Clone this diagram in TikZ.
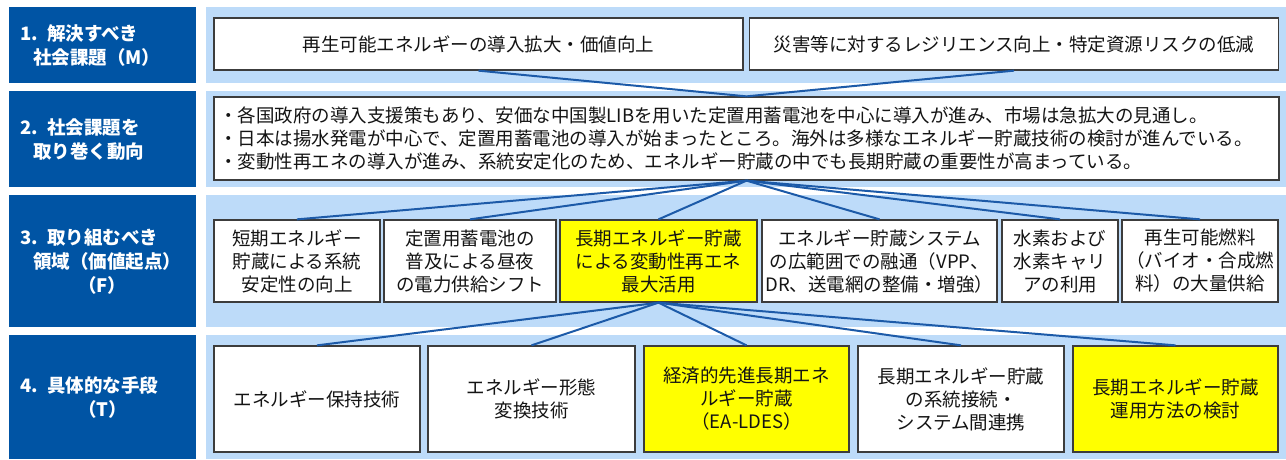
\documentclass[tikz,border=0pt]{standalone}
\usepackage{fontspec}
\setmainfont{Noto Sans CJK JP}
\definecolor{hdrblue}{RGB}{0,84,164}
\definecolor{panelblue}{RGB}{189,219,249}
\definecolor{linkblue}{RGB}{28,90,168}
\definecolor{bordergray}{RGB}{60,60,60}
\definecolor{textgray}{RGB}{20,20,20}
\definecolor{boxyellow}{RGB}{255,255,0}
\newcommand\myhfont{\fontsize{18.5}{24}\selectfont\bfseries}
\newcommand\mybfont{\fontsize{18.5}{23}\selectfont}
\begin{document}
\begin{tikzpicture}[x=1pt,y=-1pt,
  hdr/.style={fill=hdrblue, draw=none, text=white, inner xsep=11pt, inner ysep=0pt,
    text width=165pt, minimum width=187pt, align=left, anchor=north west, font=\myhfont},
  panel/.style={fill=panelblue, draw=none, inner sep=0pt, anchor=north west, minimum width=1080pt},
  box/.style={draw=bordergray, line width=1.3pt, fill=white, inner sep=0pt, align=center,
    text=textgray, font=\mybfont},
  ybox/.style={box, fill=boxyellow},
  conn/.style={draw=linkblue, line width=2pt}]
\useasboundingbox[fill=white] (0,0) rectangle (1286,459);
% headers
\node[hdr, minimum height=76pt] (h1) at (9,7) {1. 解決すべき\\\hspace*{13pt}社会課題（M）};
\node[hdr, minimum height=96pt] (h2) at (9,91) {2. 社会課題を\\\hspace*{13pt}取り巻く動向};
\node[hdr, minimum height=132pt] (h3) at (9,195) {3. 取り組むべき\\\hspace*{13pt}領域（価値起点）\\\hspace*{58pt}（F）};
\node[hdr, minimum height=124pt] (h4) at (9,335) {4. 具体的な手段\\\hspace*{58pt}（T）};
% panels
\node[panel, minimum height=76pt] (p1) at (206,7) {};
\node[panel, minimum height=96pt] (p2) at (206,91) {};
\node[panel, minimum height=132pt] (p3) at (206,195) {};
\node[panel, minimum height=124pt] (p4) at (206,335) {};
% row 1
\node[box, minimum width=529pt, minimum height=52pt] (m1) at (478.5,44) {再生可能エネルギーの導入拡大・価値向上};
\node[box, minimum width=529pt, minimum height=52pt] (m2) at (1014,44) {災害等に対するレジリエンス向上・特定資源リスクの低減};
% row 2
\node[box, minimum width=1065pt, minimum height=83pt, text width=1055pt, inner xsep=5pt, align=left] (t) at (746.5,138.5)
  {・各国政府の導入支援策もあり、安価な中国製LIBを用いた定置用蓄電池を中心に導入が進み、市場は急拡大の見通し。\\
   ・日本は揚水発電が中心で、定置用蓄電池の導入が始まったところ。海外は多様なエネルギー貯蔵技術の検討が進んでいる。\\
   ・変動性再エネの導入が進み、系統安定化のため、エネルギー貯蔵の中でも長期貯蔵の重要性が高まっている。};
% row 3
\node[box, minimum width=166pt, minimum height=82pt] (fa) at (297,261) {短期エネルギー\\貯蔵による系統\\安定性の向上};
\node[box, minimum width=172pt, minimum height=82pt] (fb) at (470,261) {定置用蓄電池の\\普及による昼夜\\の電力供給シフト};
\node[ybox, minimum width=197pt, minimum height=82pt] (fc) at (658.5,261) {長期エネルギー貯蔵\\による変動性再エネ\\最大活用};
\node[box, minimum width=235pt, minimum height=82pt] (fd) at (879.5,261) {エネルギー貯蔵システム\\の広範囲での融通（VPP、\\DR、送電網の整備・増強）};
\node[box, minimum width=116pt, minimum height=82pt] (fe) at (1060,261) {水素および\\水素キャリ\\アの利用};
\node[box, minimum width=156pt, minimum height=82pt] (ff) at (1200,261) {再生可能燃料\\（バイオ・合成燃\\料）の大量供給};
% row 4
\node[box, minimum width=206pt, minimum height=106pt] (ta) at (317,399) {エネルギー保持技術};
\node[box, minimum width=207pt, minimum height=106pt] (tb) at (531.5,399) {エネルギー形態\\変換技術};
\node[ybox, minimum width=205pt, minimum height=106pt] (tc) at (746.5,399) {経済的先進長期エネ\\ルギー貯蔵\\（EA-LDES）};
\node[box, minimum width=206pt, minimum height=106pt] (td) at (961,399) {長期エネルギー貯蔵\\の系統接続・\\システム間連携};
\node[ybox, minimum width=205pt, minimum height=106pt] (te) at (1175.5,399) {長期エネルギー貯蔵\\運用方法の検討};
% connectors
\draw[conn] (m1.south) -- (t.north);
\draw[conn] (m2.south) -- (t.north);
\foreach \n in {fa,fb,fc,fd,fe,ff} \draw[conn] (t.south) -- (\n.north);
\foreach \n in {ta,tb,tc,td,te} \draw[conn] (fc.south) -- (\n.north);
\end{tikzpicture}
\end{document}
